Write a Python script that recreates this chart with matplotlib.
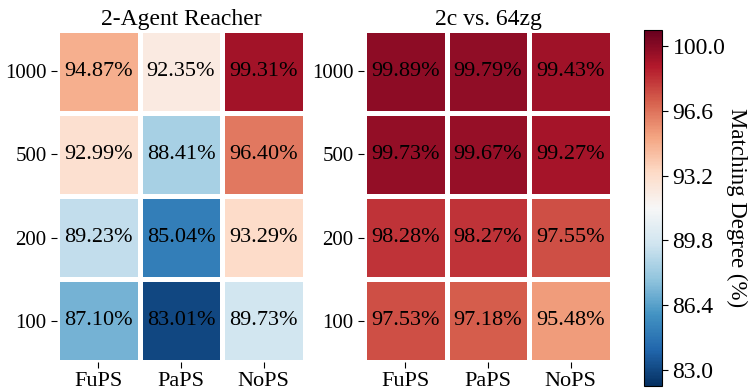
import matplotlib
matplotlib.use('Agg')
import matplotlib.pyplot as plt
import numpy as np

plt.rcParams['font.family'] = ['Liberation Serif', 'DejaVu Serif']
plt.rcParams['font.size'] = 15

# data
methods = ['FuPS', 'PaPS', 'NoPS']
steps = ['1000', '500', '200', '100']
reacher = np.array([
    [94.87, 92.35, 99.31],
    [92.99, 88.41, 96.40],
    [89.23, 85.04, 93.29],
    [87.10, 83.01, 89.73],
])
smac = np.array([
    [99.89, 99.79, 99.43],
    [99.73, 99.67, 99.27],
    [98.28, 98.27, 97.55],
    [97.53, 97.18, 95.48],
])
titles = ['2-Agent Reacher', '2c vs. 64zg']
cbar_ticks = [83.0, 86.4, 89.8, 93.2, 96.6, 100.0]

vmin, vmax = 82.16, 100.84

fig = plt.figure(figsize=(7.49, 3.92), dpi=100)
ax1 = fig.add_axes([0.0761, 0.0765, 0.331, 0.847])
ax2 = fig.add_axes([0.486, 0.0765, 0.331, 0.847])
cax = fig.add_axes([0.860, 0.0153, 0.024, 0.908])

for ax, data, title in zip([ax1, ax2], [reacher, smac], titles):
    mesh = ax.pcolormesh(data, cmap='RdBu_r', vmin=vmin, vmax=vmax,
                         edgecolors='white', linewidth=2.2)
    ax.set_xlim(0, 3)
    ax.set_ylim(4, 0)
    for i in range(data.shape[0]):
        for j in range(data.shape[1]):
            ax.text(j + 0.5, i + 0.5, f'{data[i, j]:.2f}%', ha='center', va='center',
                    color='black', fontsize=16)
    ax.set_xticks(np.arange(3) + 0.5)
    ax.set_xticklabels(methods, fontsize=16)
    ax.set_yticks(np.arange(4) + 0.5)
    ax.set_yticklabels(steps, rotation=0, fontsize=15)
    ax.set_title(title, fontsize=17, pad=3)
    for s in ax.spines.values():
        s.set_visible(False)
    ax.tick_params(length=4, width=0.8)

cb = fig.colorbar(mesh, cax=cax)
cb.set_ticks(cbar_ticks)
cb.set_ticklabels([f'{t:.1f}' for t in cbar_ticks])
cb.ax.tick_params(labelsize=17, length=4, width=0.8)
cb.outline.set_linewidth(0.8)
fig.text(0.984, 0.47, 'Matching Degree (%)', rotation=270, ha='center', va='center',
         fontsize=16.5)

fig.savefig('out.png', dpi=100)
